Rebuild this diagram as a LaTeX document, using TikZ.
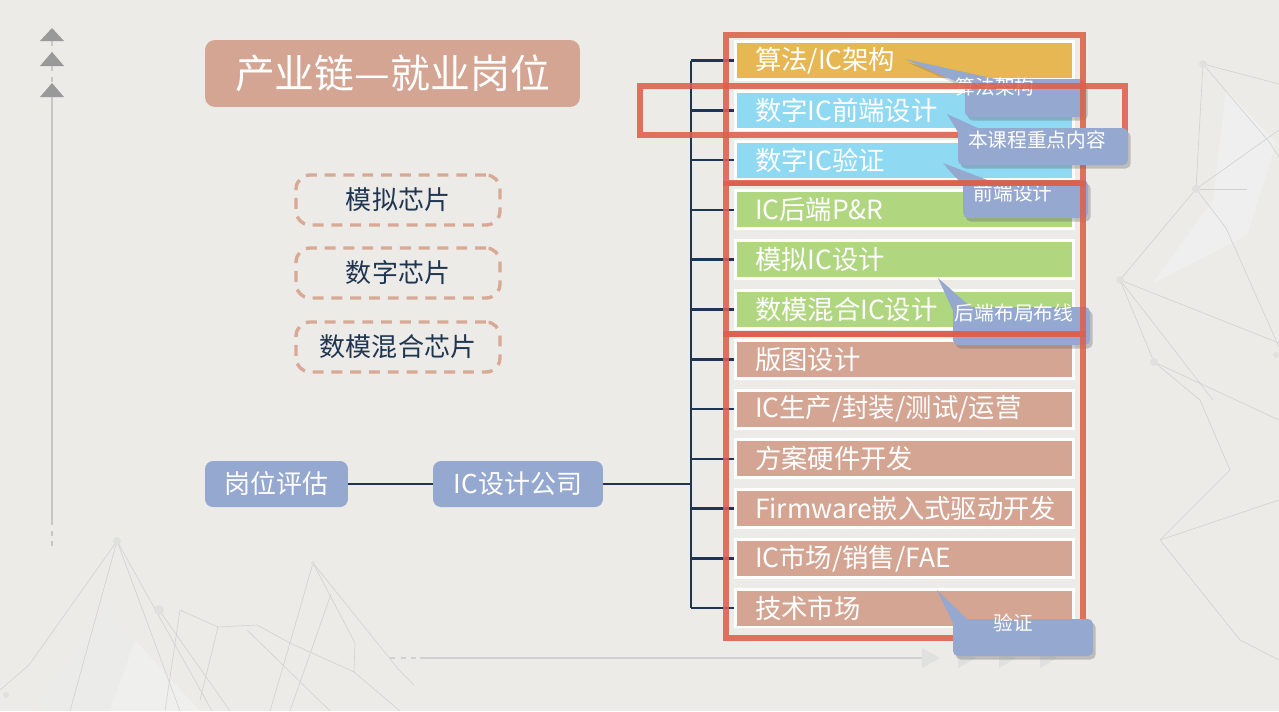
\documentclass[tikz,border=0pt]{standalone}
\usepackage{fontspec}
\setmainfont{Noto Sans CJK SC}
\usetikzlibrary{shadows}
\definecolor{bg}{HTML}{ECEBE8}
\definecolor{navy}{HTML}{1C3553}
\definecolor{gold}{HTML}{E6B752}
\definecolor{cyanb}{HTML}{8FD9F3}
\definecolor{greenb}{HTML}{B0D680}
\definecolor{salmon}{HTML}{D3A592}
\definecolor{bluec}{HTML}{95A8CF}
\definecolor{redr}{HTML}{DC614C}
\definecolor{dashc}{HTML}{D8A994}
\definecolor{darktext}{HTML}{1F3550}
\definecolor{netc}{HTML}{D2D2D0}
\begin{document}
\begin{tikzpicture}[x=0.02cm,y=-0.02cm,
  rowbox/.style={draw=white, line width=1.7pt, minimum height=0.76cm, text width=5.97cm,
    inner xsep=0.4cm, inner ysep=0pt, align=left, text=white, font=\fontsize{15}{18}\selectfont},
  conn/.style={draw=navy, line width=1.5pt},
  tagbox/.style={fill=bluec, rounded corners=0.16cm, minimum height=0.92cm, text=white,
    font=\fontsize{14.8}{18}\selectfont, inner sep=0pt},
  chipbox/.style={draw=dashc, line width=1.9pt, dash pattern=on 6.2pt off 4.5pt, rounded corners=0.28cm,
    minimum width=4.08cm, minimum height=1cm, text=darktext, font=\fontsize{14.8}{18}\selectfont},
  cbox/.style={fill=bluec, rounded corners=0.1cm,
    drop shadow={shadow xshift=1.5pt, shadow yshift=-2pt, opacity=0.35, fill=black!60}},
  ctail/.style={fill=bluec, drop shadow={shadow xshift=1.5pt, shadow yshift=-2pt, opacity=0.25, fill=black!60}},
  ctext/.style={text=white, font=\fontsize{11.2}{13}\selectfont, inner sep=0pt},
  redbox/.style={draw=redr, line width=3.4pt, draw opacity=0.88},
  net/.style={draw=netc, line width=0.35pt},
  netdot/.style={fill=black!12},
]
\useasboundingbox (0,0) rectangle (1279,711);
\fill[bg] (0,0) rectangle (1279,711);

% ---- background network (decoration) ----
\fill[black!8, opacity=0.6] (110,603) -- (35,711) -- (171,711) -- cycle;
\fill[black!5, opacity=0.6] (135,640) -- (110,711) -- (200,711) -- cycle;
\draw[net] (117,541) -- (29,665) -- (0,690);
\draw[net] (117,541) -- (212,711);
\draw[net] (117,541) -- (180,711);
\draw[net] (117,541) -- (70,711);
\draw[net] (159,610) -- (230,711);
\draw[net] (180,610) -- (218,627) -- (257,625) -- (290,643) -- (354,672) -- (400,711);
\draw[net] (180,610) -- (165,711);
\draw[net] (218,627) -- (200,700);
\draw[net] (313,563) -- (355,643) -- (354,672);
\draw[net] (313,563) -- (290,643) -- (270,711);
\draw[net] (313,563) -- (399,670) -- (414,685);
\draw[net] (331,594) -- (290,711);
\draw[net] (247,630) -- (330,711);
\fill[netdot] (117,541) circle (4);
\fill[netdot] (159,610) circle (5);
\fill[netdot] (313,563) circle (2);
\fill[netdot] (6,695) circle (3);
% right side network
\fill[black!5, opacity=0.7] (1226,90) -- (1276,143) -- (1247,235) -- (1153,283) -- (1213,200) -- cycle;
\draw[net] (1203,64) -- (1279,84);
\draw[net] (1203,64) -- (1196,189);
\draw[net] (1203,64) -- (1270,143) -- (1279,157);
\draw[net] (1196,189) -- (1120,280);
\draw[net] (1196,189) -- (1247,189);
\draw[net] (1196,189) -- (1279,130);
\draw[net] (1196,189) -- (1226,228) -- (1279,347);
\draw[net] (1120,280) -- (1279,343);
\draw[net] (1120,280) -- (1154,362) -- (1200,400) -- (1230,470);
\draw[net] (1120,280) -- (1213,400);
\draw[net] (1154,362) -- (1279,420);
\draw[net] (1160,540) -- (1279,500);
\draw[net] (1160,540) -- (1240,640) -- (1279,660);
\draw[net] (1160,540) -- (1230,470);
\fill[netdot] (1203,64) circle (4);
\fill[netdot] (1196,189) circle (4);
\fill[netdot] (1120,280) circle (4);
\fill[netdot] (1154,362) circle (4);
\fill[netdot] (1276,355) circle (3);

% ---- left vertical deco ----
\draw[black!22, line width=1pt] (52,97) -- (52,520);
\draw[black!22, line width=1pt, dashed] (52,520) -- (52,548);
\draw[black!22, line width=1pt, dashed] (52,41) -- (52,52);
\draw[black!22, line width=1pt, dashed] (52,66) -- (52,83);
\fill[black!40] (52,28) -- (64,41) -- (40,41) -- cycle;
\fill[black!40] (52,52) -- (64,66) -- (40,66) -- cycle;
\fill[black!40] (52,83) -- (64,97) -- (40,97) -- cycle;
% ---- bottom horizontal deco ----
\draw[black!18, line width=1.1pt] (420,658) -- (922,658);
\draw[black!18, line width=1.1pt, dashed] (390,658) -- (420,658);
\fill[black!12] (922,648) -- (940,658) -- (922,668) -- cycle;
\fill[black!12] (958,648) -- (976,658) -- (958,668) -- cycle;
\fill[black!12] (999,648) -- (1016,658) -- (999,668) -- cycle;
\fill[black!12] (1040,648) -- (1057,658) -- (1040,668) -- cycle;

% ---- title ----
\node[fill=salmon, rounded corners=0.2cm, minimum width=7.5cm, minimum height=1.34cm,
  text=white, font=\fontsize{22.7}{27}\selectfont] (title) at (392.5,73.5) {产业链—就业岗位};

% ---- chip types ----
\node[chipbox] (chipA) at (398,200) {模拟芯片};
\node[chipbox] (chipD) at (398,273) {数字芯片};
\node[chipbox] (chipM) at (398,347) {数模混合芯片};

% ---- left tags ----
\node[tagbox, minimum width=2.86cm] (gw) at (276.5,484) {岗位评估};
\node[tagbox, minimum width=3.4cm] (ic) at (518,484) {IC设计公司};
\draw[conn] (gw) -- (ic);
\coordinate (tj) at (691,484);
\draw[conn] (ic.east) -- (tj);

% ---- trunk and branches ----
\coordinate (trtop) at (691,60.5);
\coordinate (trbot) at (691,608);
\draw[conn] (trtop) -- (trbot);
\foreach \i/\y in {1/60.5,2/110.3,3/160.1,4/209.9,5/259.7,6/309.5,7/359.3,8/409.1,9/458.9,10/508.7,11/558.5,12/608}{
  \coordinate (b\i) at (691,\y);
  \draw[conn] (b\i) -- (740,\y);
}

% ---- rows ----
\node[rowbox, fill=gold]   (r1)  at (904.25,60.5)  {算法/IC架构};
\node[rowbox, fill=cyanb]  (r2)  at (904.25,110.3) {数字IC前端设计};
\node[rowbox, fill=cyanb]  (r3)  at (904.25,160.1) {数字IC验证};
\node[rowbox, fill=greenb] (r4)  at (904.25,209.9) {IC后端P\&R};
\node[rowbox, fill=greenb] (r5)  at (904.25,259.7) {模拟IC设计};
\node[rowbox, fill=greenb] (r6)  at (904.25,309.5) {数模混合IC设计};
\node[rowbox, fill=salmon] (r7)  at (904.25,359.3) {版图设计};
\node[rowbox, fill=salmon] (r8)  at (904.25,409.1) {IC生产/封装/测试/运营};
\node[rowbox, fill=salmon] (r9)  at (904.25,458.9) {方案硬件开发};
\node[rowbox, fill=salmon] (r10) at (904.25,508.7) {Firmware嵌入式驱动开发};
\node[rowbox, fill=salmon] (r11) at (904.25,558.5) {IC市场/销售/FAE};
\node[rowbox, fill=salmon] (r12) at (904.25,608)   {技术市场};

% ---- callouts (under red frames) ----
\coordinate (t1) at (905,59);
\fill[ctail] (t1) -- (966,86) -- (1000,80) -- cycle;
\node[cbox, minimum width=2.4cm, minimum height=0.76cm] (c1b) at (1025,98) {};
\node[ctext] (c1) at (995,87) {算法架构};

\coordinate (t3) at (943,163);
\fill[ctail] (t3) -- (964,186) -- (990,181) -- cycle;
\node[cbox, minimum width=2.5cm, minimum height=0.76cm] (c3b) at (1025.5,199) {};
\node[ctext] (c3) at (1013,193) {前端设计};

\coordinate (t4) at (938,278);
\fill[ctail] (t4) -- (954,313) -- (972,308) -- cycle;
\node[cbox, minimum width=2.74cm, minimum height=0.76cm] (c4b) at (1021.5,326) {};
\node[ctext] (c4) at (1014,313) {后端布局布线};

% ---- red frames ----
\draw[redbox] (726,35) rectangle (1083,183);
\draw[redbox] (726,183.5) rectangle (1083,334);
\draw[redbox] (726,334) rectangle (1083,638);
\draw[redbox, line width=3.1pt] (640,86) rectangle (1125,135);

% ---- callouts over frames ----
\coordinate (t2) at (947,114);
\fill[ctail] (t2) -- (959,134) -- (980,129) -- cycle;
\node[cbox, minimum width=3.4cm, minimum height=0.74cm] (c2b) at (1043,146.5) {};
\node[ctext] (c2) at (1037,140) {本课程重点内容};

\coordinate (t5) at (937,590);
\fill[ctail] (t5) -- (954,625) -- (968,620) -- cycle;
\node[cbox, minimum width=2.8cm, minimum height=0.74cm] (c5b) at (1023,637.5) {};
\node[ctext] (c5) at (1013,623) {验证};
\end{tikzpicture}
\end{document}
